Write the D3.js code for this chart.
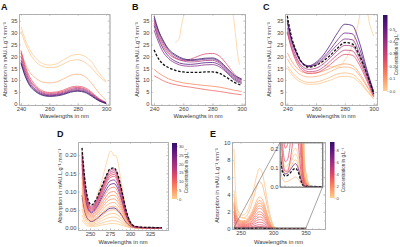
<!DOCTYPE html>
<html>
<head>
<meta charset="utf-8">
<script src="https://cdn.jsdelivr.net/npm/d3@7/dist/d3.min.js"></script>
<style>
  body { margin: 0; background: #fff; }
  text { font-family: "Liberation Sans", Arial, sans-serif; }
</style>
</head>
<body>
<div id="chart"></div>
<script>
// ---------- panels A-C : absorption (mAU.L.g-1.mm-1) vs wavelength ----------
var wlABC = [240, 243, 246, 250, 255, 260, 265, 270, 275, 280, 285, 290, 295, 300];

var concA = [0.01, 0.02, 0.06, 0.22, 0.28, 0.34, 0.42, 0.52, 0.62];
var absA = [
    [32.5, 27, 23, 19.5, 17, 16.3, 16.8, 18.5, 20.2, 20.8, 20, 17.5, 13, 9.6],
    [30.5, 25.5, 21.5, 18, 15.8, 15.2, 15.5, 16.8, 18.2, 18.5, 17.5, 15, 11.5, 9.2],
    [22, 17, 13.5, 11, 9.2, 8.8, 9.2, 10.5, 12, 12.5, 11.5, 8.5, 4.5, 1.5],
    [22.5, 16, 11.5, 8, 5.5, 4.8, 5, 5.8, 7, 7.4, 6.8, 4.8, 2.2, 0.6],
    [21.5, 15, 10.5, 7.3, 5, 4.4, 4.6, 5.3, 6.5, 6.9, 6.3, 4.4, 2, 0.5],
    [20, 14, 9.8, 6.8, 4.6, 4, 4.2, 4.9, 6, 6.5, 5.9, 4, 1.8, 0.4],
    [18.5, 13, 9, 6.2, 4.2, 3.7, 3.9, 4.5, 5.6, 6, 5.5, 3.7, 1.6, 0.3],
    [17.5, 12, 8.3, 5.7, 3.9, 3.4, 3.6, 4.2, 5.2, 5.6, 5.1, 3.4, 1.4, 0.2],
    [17, 11.5, 7.8, 5.3, 3.6, 3.1, 3.3, 3.9, 4.9, 5.3, 4.8, 3.1, 1.2, 0.1]
];

var concB = [0.14, 0.2, 0.26, 0.36, 0.45, 0.5, 0.55, 0.62];
var absB = [
    [14.5, 13, 11.8, 10.5, 9.5, 8.8, 8.4, 8, 7.7, 7.4, 7, 6.4, 5.7, 5.2],
    [11.8, 10.8, 9.8, 8.8, 8, 7.4, 7, 6.5, 6, 5.6, 5.2, 4.7, 4.2, 3.8],
    [34, 28.5, 24.5, 21, 19, 18.3, 18.8, 20, 21, 21.2, 20, 16.5, 12.5, 10.2],
    [35, 29.5, 25.5, 21.7, 19.3, 18, 17.6, 17.8, 18.2, 18.3, 17, 14, 11, 9.5],
    [31, 26, 22, 19, 17, 16, 15.8, 16, 16.4, 16.5, 15.5, 13, 10, 8.5],
    [36, 30.5, 26.5, 22.5, 20, 18.6, 18.2, 18.4, 18.8, 18.9, 17.5, 14.5, 11.5, 10],
    [33, 27.5, 23.5, 20, 17.8, 16.8, 16.6, 16.9, 17.3, 17.4, 16.3, 13.5, 10.5, 9],
    [37, 31, 27, 23, 20.5, 19, 18.5, 18.8, 19.2, 19.3, 18, 15, 12, 10.5]
];
var dashB = [22.7, 19, 16.8, 15.2, 14, 13.4, 13.2, 13.2, 13.4, 13.4, 12.8, 11, 9, 7.8];
var wlBwild = [254.5, 256, 257.5, 258.5, 259.5, 261, 263, 270, 280, 290, 293, 294.5, 296, 297.5, 298.5];
var absBwild = [26, 26.5, 28, 32, 35, 39, 44, 50, 52, 48, 41, 36, 28, 20, 16.5];

var concC = [0.02, 0.04, 0.06, 0.09, 0.25, 0.3, 0.36, 0.45, 0.5, 0.57];
var absC = [
    [15, 12.5, 10.5, 9, 8.2, 8.3, 9, 10, 11.2, 11.6, 11.2, 9, 5.5, 2],
    [16, 13.5, 11.5, 9.8, 9, 9.2, 10, 11.3, 12.6, 13, 12.5, 10, 6, 2.2],
    [19, 16, 13.8, 12, 11.3, 11.5, 12.3, 13.6, 15, 15.5, 15, 12, 7.5, 2.8],
    [21.5, 18, 15.5, 13.5, 12.8, 13, 13.8, 15, 16.3, 16.8, 16.2, 13, 8, 3],
    [30.5, 23, 18, 14.2, 12.8, 13, 14.4, 16.6, 19.2, 20.8, 20.5, 16.5, 10, 3],
    [30, 23.5, 19, 15.2, 13.5, 13.8, 15.4, 18, 20.8, 22.6, 22.3, 18, 11, 3.5],
    [32, 25, 20, 16, 14.5, 15, 16.8, 19.5, 22.5, 24.6, 24.3, 19.5, 12, 4],
    [35.5, 27, 22, 17.5, 15.7, 16.5, 18.8, 21.8, 25, 27.3, 27, 21.5, 13, 4.5],
    [34, 26.5, 21.5, 17.2, 15.8, 17, 19.5, 23, 27, 29.8, 29.5, 23.5, 14, 5],
    [35, 27, 22, 17.5, 16, 17.5, 20.5, 25, 30, 33.5, 33, 26, 15, 5]
];
var dashC = [37, 28, 22.5, 17.5, 15.4, 16.2, 18, 20.5, 23.5, 25.8, 25.2, 20.5, 13, 4.2];
var wlCwild = [262, 266, 270, 274, 277, 280, 283, 286, 289, 292, 295, 297, 300];
var absCwild = [17.8, 16.3, 15.6, 15.5, 16, 18.5, 21.5, 26, 33, 41, 40, 34, 28.5];

// ---------- panel D ----------
var wlD = [240, 244, 248, 252, 258, 264, 270, 275, 280, 285, 290, 295, 300, 306, 315, 340];
var concD = [0.5, 1, 1.5, 2, 3, 30.5, 3.5, 4, 5, 6, 7, 8, 27, 24, 12, 13, 14, 16, 18];
var absD = [
    [0.022, 0.01, 0.005, 0.004, 0.005, 0.008, 0.01, 0.012, 0.012, 0.011, 0.007, 0.004, 0.001, 0, 0, 0],
    [0.036, 0.016, 0.009, 0.007, 0.009, 0.013, 0.017, 0.02, 0.02, 0.018, 0.012, 0.006, 0.002, 0, 0, 0],
    [0.052, 0.024, 0.013, 0.01, 0.013, 0.019, 0.026, 0.029, 0.03, 0.026, 0.018, 0.009, 0.003, 0.001, 0, 0],
    [0.068, 0.031, 0.017, 0.013, 0.018, 0.026, 0.034, 0.039, 0.04, 0.035, 0.024, 0.012, 0.004, 0.001, 0, 0],
    [0.082, 0.038, 0.021, 0.017, 0.022, 0.032, 0.043, 0.049, 0.05, 0.044, 0.031, 0.015, 0.005, 0.001, 0, 0],
    [0.09, 0.042, 0.023, 0.018, 0.025, 0.036, 0.047, 0.054, 0.055, 0.048, 0.034, 0.016, 0.006, 0.001, 0, 0],
    [0.097, 0.046, 0.025, 0.02, 0.027, 0.039, 0.051, 0.059, 0.06, 0.053, 0.037, 0.018, 0.007, 0.002, 0, 0],
    [0.11, 0.053, 0.029, 0.023, 0.031, 0.045, 0.06, 0.068, 0.07, 0.061, 0.043, 0.021, 0.008, 0.002, 0, 0],
    [0.125, 0.06, 0.033, 0.027, 0.036, 0.052, 0.069, 0.078, 0.08, 0.07, 0.049, 0.024, 0.009, 0.002, 0.001, 0],
    [0.14, 0.068, 0.037, 0.03, 0.04, 0.058, 0.077, 0.088, 0.09, 0.079, 0.055, 0.027, 0.01, 0.002, 0.001, 0],
    [0.15, 0.075, 0.041, 0.033, 0.045, 0.065, 0.086, 0.098, 0.1, 0.088, 0.061, 0.03, 0.011, 0.003, 0.001, 0],
    [0.165, 0.083, 0.046, 0.037, 0.05, 0.072, 0.096, 0.109, 0.112, 0.098, 0.068, 0.033, 0.012, 0.003, 0.001, 0],
    [0.175, 0.09, 0.05, 0.041, 0.055, 0.079, 0.104, 0.119, 0.122, 0.107, 0.074, 0.036, 0.013, 0.003, 0.001, 0],
    [0.185, 0.097, 0.054, 0.044, 0.059, 0.085, 0.113, 0.129, 0.132, 0.116, 0.08, 0.039, 0.014, 0.003, 0.001, 0],
    [0.19, 0.102, 0.057, 0.047, 0.063, 0.091, 0.121, 0.138, 0.142, 0.124, 0.086, 0.042, 0.015, 0.004, 0.001, 0],
    [0.195, 0.106, 0.06, 0.05, 0.066, 0.095, 0.126, 0.143, 0.147, 0.129, 0.089, 0.043, 0.015, 0.004, 0.001, 0],
    [0.2, 0.11, 0.063, 0.052, 0.069, 0.099, 0.13, 0.148, 0.152, 0.133, 0.092, 0.045, 0.016, 0.004, 0.001, 0],
    [0.205, 0.115, 0.066, 0.055, 0.072, 0.103, 0.134, 0.153, 0.157, 0.138, 0.095, 0.046, 0.016, 0.004, 0.001, 0.001],
    [0.21, 0.12, 0.07, 0.058, 0.076, 0.107, 0.139, 0.158, 0.162, 0.142, 0.098, 0.048, 0.017, 0.004, 0.002, 0.001]
];
var dashD = [0.22, 0.125, 0.075, 0.063, 0.08, 0.11, 0.142, 0.162, 0.165, 0.145, 0.1, 0.05, 0.018, 0.005, 0.002, 0.001];
var wlDwild = [258, 262, 266, 269, 272, 274, 276, 278, 280, 282, 285, 288, 292, 296, 300];
var absDwild = [0.085, 0.11, 0.14, 0.165, 0.19, 0.205, 0.212, 0.206, 0.198, 0.2, 0.18, 0.14, 0.09, 0.04, 0.015];

// ---------- panel E ----------
var wlE = [240, 242, 245, 248, 252, 258, 264, 270, 275, 279, 283, 287, 291, 295, 300, 305, 320, 350];
var concE = [0.1, 0.15, 0.25, 0.5, 4, 3.8, 3.5, 3.2, 3, 2.7, 2.5, 2.2, 2, 1.8, 1.5, 1.2, 0.8, 0.4, 0.2, 7.5];
var absE = [
    [0.3, 0.22, 0.16, 0.12, 0.1, 0.11, 0.13, 0.16, 0.19, 0.2, 0.19, 0.16, 0.11, 0.055, 0.014, 0.003, 0.001, 0],
    [0.27, 0.19, 0.135, 0.1, 0.085, 0.09, 0.11, 0.14, 0.16, 0.17, 0.16, 0.135, 0.09, 0.045, 0.012, 0.003, 0, 0],
    [0.23, 0.16, 0.11, 0.085, 0.07, 0.075, 0.09, 0.115, 0.133, 0.14, 0.133, 0.11, 0.075, 0.038, 0.01, 0.002, 0, 0],
    [0.09, 0.06, 0.04, 0.03, 0.025, 0.027, 0.032, 0.04, 0.047, 0.05, 0.047, 0.04, 0.027, 0.013, 0.003, 0.001, 0, 0],
    [0.5, 0.28, 0.15, 0.1, 0.08, 0.08, 0.12, 0.2, 0.27, 0.3, 0.29, 0.23, 0.14, 0.07, 0.02, 0, 0, 0],
    [0.8, 0.45, 0.24, 0.16, 0.13, 0.14, 0.2, 0.33, 0.45, 0.5, 0.48, 0.38, 0.24, 0.12, 0.03, 0, 0, 0],
    [1.1, 0.65, 0.37, 0.25, 0.2, 0.22, 0.33, 0.52, 0.72, 0.8, 0.76, 0.6, 0.39, 0.19, 0.05, 0.01, 0, 0],
    [1.4, 0.85, 0.5, 0.35, 0.28, 0.3, 0.45, 0.72, 0.98, 1.1, 1.05, 0.83, 0.53, 0.27, 0.07, 0.01, 0, 0],
    [1.7, 1.05, 0.62, 0.44, 0.36, 0.39, 0.57, 0.91, 1.25, 1.4, 1.33, 1.05, 0.68, 0.34, 0.09, 0.02, 0, 0],
    [1.9, 1.2, 0.74, 0.53, 0.44, 0.47, 0.7, 1.1, 1.52, 1.7, 1.62, 1.28, 0.82, 0.41, 0.11, 0.02, 0, 0],
    [2.1, 1.35, 0.85, 0.62, 0.52, 0.55, 0.82, 1.3, 1.8, 2.0, 1.9, 1.5, 0.97, 0.48, 0.13, 0.03, 0, 0],
    [2.4, 1.55, 1.0, 0.74, 0.62, 0.66, 0.98, 1.56, 2.15, 2.4, 2.28, 1.8, 1.16, 0.58, 0.16, 0.03, 0, 0],
    [2.6, 1.7, 1.12, 0.83, 0.7, 0.74, 1.1, 1.76, 2.42, 2.7, 2.56, 2.03, 1.3, 0.65, 0.18, 0.04, 0, 0],
    [2.8, 1.85, 1.25, 0.92, 0.78, 0.82, 1.22, 1.95, 2.7, 3.0, 2.85, 2.25, 1.45, 0.72, 0.2, 0.04, 0, 0],
    [3.0, 2.0, 1.35, 1.0, 0.85, 0.9, 1.35, 2.15, 2.95, 3.3, 3.1, 2.5, 1.6, 0.8, 0.22, 0.05, 0, 0],
    [3.2, 2.2, 1.5, 1.1, 0.95, 1.0, 1.5, 2.4, 3.3, 3.7, 3.5, 2.8, 1.8, 0.9, 0.25, 0.05, 0, 0],
    [3.8, 2.7, 1.9, 1.5, 1.3, 1.4, 2.2, 3.6, 4.9, 5.5, 5.2, 4.1, 2.7, 1.4, 0.4, 0.1, 0, 0],
    [4.5, 3.2, 2.3, 1.9, 1.6, 1.8, 2.8, 4.5, 6.2, 7.0, 6.6, 5.2, 3.4, 1.8, 0.5, 0.1, 0, 0],
    [9.3, 5, 2.5, 1.7, 1.3, 1.2, 1.5, 2.2, 2.8, 3.0, 2.8, 2.2, 1.4, 0.7, 0.2, 0.05, 0, 0],
    [0.16, 0.12, 0.09, 0.074, 0.066, 0.07, 0.083, 0.1, 0.114, 0.12, 0.114, 0.095, 0.064, 0.032, 0.008, 0.002, 0.001, 0]
];
var dashE = [0.13, 0.1, 0.075, 0.062, 0.055, 0.058, 0.068, 0.082, 0.092, 0.095, 0.09, 0.075, 0.05, 0.025, 0.006, 0.002, 0.001, 0];

// ---------- ticks ----------
var xTicksABC = [240, 260, 280, 300];
var yTicksABC = [0, 5, 10, 15, 20, 25, 30, 35];
var xTicksD = [250, 275, 300, 325];
var yTicksD = [0, 0.05, 0.1, 0.15, 0.2];
var xTicksE = [250, 300, 350];
var yTicksE = [0, 2, 4, 6, 8, 10];
var yTicksInset = [0, 0.1, 0.2];
var cbTicksC = [0, 0.1, 0.2, 0.3, 0.4, 0.5];
var cbTicksD = [0, 5, 10, 15, 20, 25, 30];
var cbTicksE = [0, 2, 4, 6, 8];

var yLabel = 'Absorption in mAU.L.g\u207B\u00B9.mm\u207B\u00B9';
var xLabel = 'Wavelengths in nm';
var cbLabel = 'Concentration in g.L\u207B\u00B9';

var svg = d3.select('#chart').append('svg')
    .attr('width', 400).attr('height', 247);

var frameCol = '#a8a8a8';

// flare-like palette: a slice of magma, light orange -> dark purple
function colour(t) { return d3.interpolateMagma(0.9 - 0.72 * Math.max(0, Math.min(1.05, t))); }

function styleAxis(g) {
    g.attr('font-size', 5.8).attr('font-family', null);
    g.selectAll('text').attr('fill', '#444');
    g.selectAll('line').attr('stroke', frameCol).attr('stroke-width', 0.5);
    g.select('.domain').attr('stroke', frameCol).attr('stroke-width', 0.7);
}

function range(a, b, s) {
    var out = [];
    for (var v = a; v <= b + 1e-9; v += s) out.push(+v.toFixed(4));
    return out;
}

// frame with inward major + minor ticks on all four sides
function drawFrame(p, x, y) {
    var sides = [
        { make: d3.axisBottom, sc: x, tx: 0, ty: p.y1, ticks: p.xTicks, minor: p.xMinor,
          fmt: p.noXLabels ? null : (p.xFmt || 'd') },
        { make: d3.axisTop, sc: x, tx: 0, ty: p.y0, ticks: p.xTicks, minor: p.xMinor, fmt: null },
        { make: d3.axisLeft, sc: y, tx: p.x0, ty: 0, ticks: p.yTicks, minor: p.yMinor, fmt: p.yFmt || 'd' },
        { make: d3.axisRight, sc: y, tx: p.x1, ty: 0, ticks: p.yTicks, minor: p.yMinor, fmt: null }
    ];
    sides.forEach(function(s) {
        var pos = 'translate(' + s.tx + ',' + s.ty + ')';
        svg.append('g').attr('transform', pos)
            .call(s.make(s.sc).tickValues(s.minor).tickSize(-1).tickSizeOuter(0).tickFormat(''))
            .call(styleAxis);
        svg.append('g').attr('transform', pos)
            .call(s.make(s.sc).tickValues(s.ticks).tickSizeInner(-2).tickSizeOuter(0).tickPadding(1.5)
                .tickFormat(s.fmt ? d3.format(s.fmt) : ''))
            .call(styleAxis);
    });
}

function drawCurves(p, x, y, id) {
    svg.append('clipPath').attr('id', id).append('rect')
        .attr('x', p.x0).attr('y', p.y0)
        .attr('width', p.x1 - p.x0).attr('height', p.y1 - p.y0);
    var g = svg.append('g').attr('clip-path', 'url(#' + id + ')');
    var line = function(wl) {
        return d3.line()
            .x(function(d, i) { return x(wl[i]); })
            .y(function(d) { return y(d); })
            .curve(d3.curveMonotoneX);
    };
    if (p.wild) {
        g.append('path').datum(p.wild[1])
            .attr('d', line(p.wild[0]))
            .attr('fill', 'none').attr('stroke', colour(0.02)).attr('stroke-width', 0.7);
    }
    p.curves.forEach(function(c, i) {
        g.append('path').datum(c)
            .attr('d', line(p.wl))
            .attr('fill', 'none')
            .attr('stroke', colour(p.conc[i] / p.cMax))
            .attr('stroke-width', 0.75);
    });
    if (p.dash) {
        g.append('path').datum(p.dash)
            .attr('d', line(p.wl))
            .attr('fill', 'none').attr('stroke', '#111')
            .attr('stroke-width', 1.3).attr('stroke-dasharray', '2.6,1.6');
    }
}

function panel(p) {
    var x = d3.scaleLinear().domain(p.xDom).range([p.x0, p.x1]);
    var y = d3.scaleLinear().domain(p.yDom).range([p.y1, p.y0]);
    drawCurves(p, x, y, 'clip' + p.name);
    drawFrame(p, x, y);
    if (p.letter) {
        svg.append('text').attr('x', p.letter[0]).attr('y', p.letter[1])
            .attr('font-size', 9).attr('font-weight', 'bold').attr('fill', '#111')
            .text(p.name);
    }
    if (p.xl) {
        svg.append('text').attr('x', (p.x0 + p.x1) / 2).attr('y', p.xl)
            .attr('text-anchor', 'middle').attr('font-size', 5.8).attr('fill', '#333')
            .text(xLabel);
    }
    if (p.yl) {
        svg.append('text')
            .attr('transform', 'translate(' + p.yl + ',' + ((p.y0 + p.y1) / 2) + ') rotate(-90)')
            .attr('text-anchor', 'middle').attr('font-size', 5.6).attr('fill', '#333')
            .text(yLabel);
    }
    return { x: x, y: y };
}

function colorbar(cb) {
    var id = 'grad' + cb.name;
    var grad = svg.append('defs').append('linearGradient').attr('id', id)
        .attr('x1', 0).attr('y1', 1).attr('x2', 0).attr('y2', 0);
    d3.range(0, 1.0001, 0.1).forEach(function(t) {
        grad.append('stop').attr('offset', t).attr('stop-color', colour(t));
    });
    svg.append('rect').attr('x', cb.x0).attr('y', cb.y0)
        .attr('width', cb.w).attr('height', cb.y1 - cb.y0)
        .attr('fill', 'url(#' + id + ')');
    var s = d3.scaleLinear().domain([0, cb.max]).range([cb.y1, cb.y0]);
    svg.append('g').attr('transform', 'translate(' + (cb.x0 + cb.w) + ',0)')
        .call(d3.axisRight(s).tickValues(cb.ticks).tickSize(1).tickPadding(1)
            .tickFormat(d3.format(cb.fmt)))
        .call(function(g) {
            g.attr('font-size', 4.2).attr('font-family', null);
            g.select('.domain').remove();
            g.selectAll('line').attr('stroke', '#666').attr('stroke-width', 0.4);
            g.selectAll('text').attr('fill', '#444');
        });
    svg.append('text')
        .attr('transform', 'translate(' + cb.lx + ',' + ((cb.y0 + cb.y1) / 2) + ') rotate(-90)')
        .attr('text-anchor', 'middle').attr('font-size', 4.6).attr('fill', '#333')
        .text(cbLabel);
}

// ---- A ----
panel({ name: 'A', letter: [1, 10], x0: 19, x1: 109.5, y0: 14, y1: 105,
    xDom: [238.6, 302.4], yDom: [-0.5, 37.8], wl: wlABC, curves: absA, conc: concA, cMax: 0.61,
    xTicks: xTicksABC, yTicks: yTicksABC, xMinor: range(240, 300, 5), yMinor: range(0, 37.5, 2.5),
    xl: 118, yl: 7 });

// ---- B ----
panel({ name: 'B', letter: [132, 10], x0: 151, x1: 245, y0: 14, y1: 105,
    xDom: [237.9, 302.3], yDom: [-0.5, 37.8], wl: wlABC, curves: absB, conc: concB, cMax: 0.61,
    dash: dashB, wild: [wlBwild, absBwild],
    xTicks: xTicksABC, yTicks: yTicksABC, xMinor: range(240, 300, 5), yMinor: range(0, 37.5, 2.5),
    xl: 118, yl: 139 });

// ---- C ----
panel({ name: 'C', letter: [263, 10], x0: 285, x1: 377, y0: 14, y1: 105,
    xDom: [238.4, 302.3], yDom: [-0.5, 37.8], wl: wlABC, curves: absC, conc: concC, cMax: 0.61,
    dash: dashC, wild: [wlCwild, absCwild],
    xTicks: xTicksABC, yTicks: yTicksABC, xMinor: range(240, 300, 5), yMinor: range(0, 37.5, 2.5),
    xl: 118, yl: 271 });
colorbar({ name: 'C', x0: 383, w: 4.5, y0: 15, y1: 91, max: 0.61, ticks: cbTicksC, fmt: '.1f', lx: 398 });

// ---- D ----
panel({ name: 'D', letter: [57, 137], x0: 78, x1: 168, y0: 142, y1: 230,
    xDom: [235, 347.5], yDom: [-0.0055, 0.236], wl: wlD, curves: absD, conc: concD, cMax: 31.7,
    dash: dashD, wild: [wlDwild, absDwild],
    xTicks: xTicksD, yTicks: yTicksD, xMinor: range(240, 345, 5), yMinor: range(0, 0.23, 0.01),
    yFmt: '.2f', xl: 244, yl: 62 });
colorbar({ name: 'D', x0: 172, w: 5, y0: 143, y1: 199, max: 31.7, ticks: cbTicksD, fmt: 'd', lx: 188 });

// ---- E ----
var sE = panel({ name: 'E', letter: [210, 137], x0: 232, x1: 325, y0: 142, y1: 229,
    xDom: [236.9, 380], yDom: [0, 10.08], wl: wlE, curves: absE, conc: concE, cMax: 9.3,
    dash: dashE,
    xTicks: xTicksE, yTicks: yTicksE, xMinor: range(240, 380, 10), yMinor: range(0, 10, 1),
    xl: 244, yl: 219 });

// inset of E (zoom on 240-350 nm, 0-0.2)
var pI = { name: 'I', x0: 280, x1: 322.5, y0: 142.5, y1: 187,
    xDom: [238, 352], yDom: [-0.002, 0.23], wl: wlE, curves: absE, conc: concE, cMax: 9.3,
    dash: dashE, xTicks: [250, 300, 350], yTicks: yTicksInset, xMinor: range(240, 350, 10),
    yMinor: range(0, 0.22, 0.02), yFmt: '.1f', noXLabels: true };
svg.append('rect').attr('x', pI.x0).attr('y', pI.y0)
    .attr('width', pI.x1 - pI.x0).attr('height', pI.y1 - pI.y0).attr('fill', '#fff');
panel(pI);
svg.append('rect').attr('x', pI.x0).attr('y', pI.y0)
    .attr('width', pI.x1 - pI.x0).attr('height', pI.y1 - pI.y0)
    .attr('fill', 'none').attr('stroke', '#666').attr('stroke-width', 0.7);

// zoom box and connector lines
var bx0 = sE.x(240), bx1 = sE.x(350), by0 = sE.y(0.2), by1 = sE.y(0);
svg.append('rect').attr('x', bx0).attr('y', by0).attr('width', bx1 - bx0).attr('height', by1 - by0)
    .attr('fill', 'none').attr('stroke', '#666').attr('stroke-width', 0.5);
svg.append('line').attr('x1', bx0).attr('y1', by0).attr('x2', pI.x0).attr('y2', pI.y0)
    .attr('stroke', '#666').attr('stroke-width', 0.6);
svg.append('line').attr('x1', bx1).attr('y1', by1).attr('x2', pI.x1).attr('y2', pI.y1)
    .attr('stroke', '#666').attr('stroke-width', 0.6);

colorbar({ name: 'E', x0: 330, w: 4.5, y0: 142, y1: 198, max: 9.3, ticks: cbTicksE, fmt: 'd', lx: 345 });
</script>
</body>
</html>
